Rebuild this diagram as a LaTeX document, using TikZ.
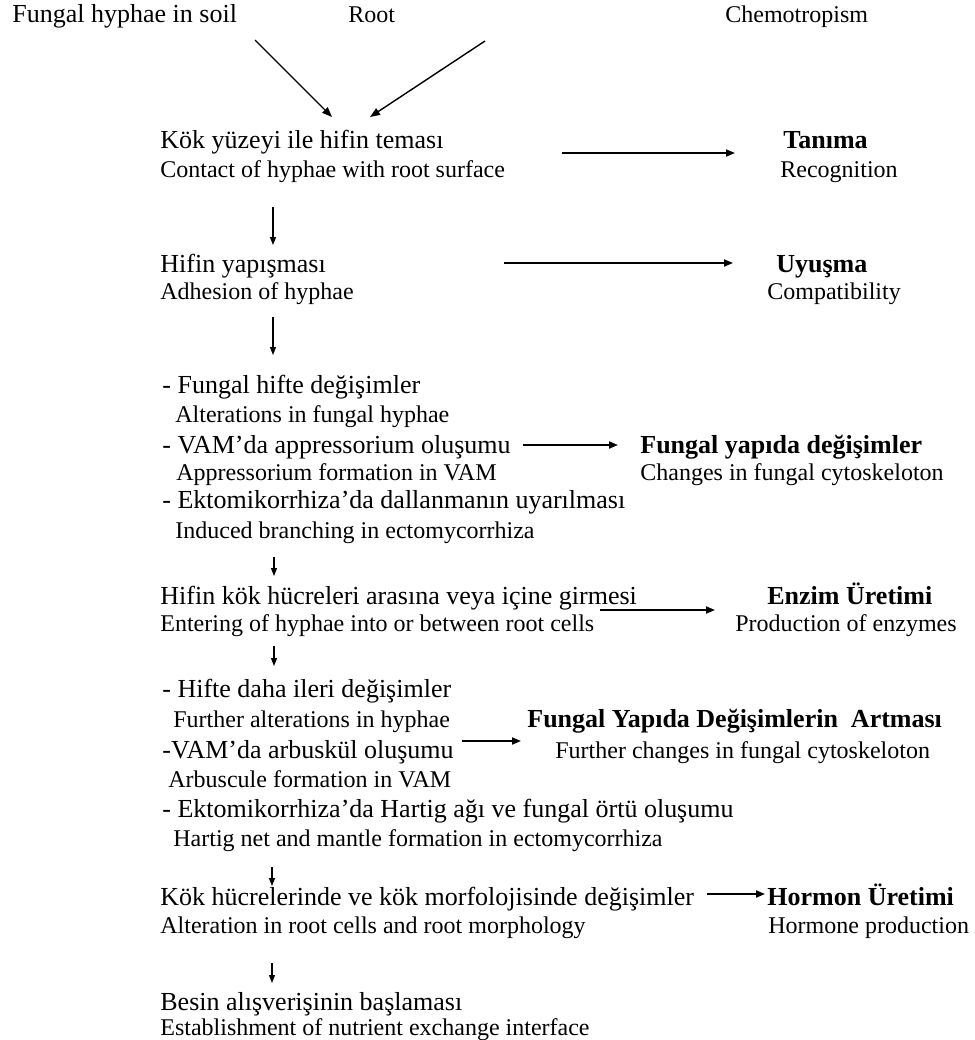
\documentclass[tikz,border=0pt]{standalone}
\usepackage{fontspec}
\setmainfont{Liberation Serif}
\usetikzlibrary{arrows.meta}

\begin{document}
\begin{tikzpicture}[
    x=0.5pt, y=-0.5pt,
    turkish/.style={anchor=base west, inner sep=0pt, font=\fontsize{13}{15}\selectfont},
    english/.style={anchor=base west, inner sep=0pt, font=\fontsize{12}{14}\selectfont},
    outcome/.style={anchor=base west, inner sep=0pt, font=\fontsize{13}{15}\selectfont\bfseries},
    arrow/.style={line width=0.9pt, -{Triangle[length=4.5pt,width=3.5pt]}},
    slant/.style={line width=0.7pt, -{Triangle[length=5pt,width=3.8pt]}},
    downarrow/.style={line width=0.6pt, -{Triangle[length=4pt,width=3pt]}},
]
\useasboundingbox (0,0) rectangle (975,1040);

% Top row
\node[turkish] (soil) at (12,22) {Fungal hyphae in soil};
\node[english] (root) at (348,22) {Root};
\node[english] (chemo) at (725,22) {Chemotropism};
\coordinate (soilStart) at (255,40);
\coordinate (chemoStart) at (485,41);
\coordinate (contactLeft) at (332,117);
\coordinate (contactRight) at (370,117);

% Contact
\node[turkish] (contactTr) at (160,148) {Kök yüzeyi ile hifin teması};
\node[english] (contactEn) at (160,177) {Contact of hyphae with root surface};
\node[outcome] (tanima) at (783,148) {Tanıma};
\node[english] (recognition) at (780,177) {Recognition};
\coordinate (contactOut) at (562,153);
\coordinate (tanimaIn) at (735,153);
\coordinate (contactDown) at (273,207);
\coordinate (adhesionUp) at (273,245);

% Adhesion
\node[turkish] (adhesionTr) at (160,272) {Hifin yapışması};
\node[english] (adhesionEn) at (160,299) {Adhesion of hyphae};
\node[outcome] (uyusma) at (776,272) {Uyuşma};
\node[english] (compatibility) at (767,299) {Compatibility};
\coordinate (adhesionOut) at (504,263);
\coordinate (uyusmaIn) at (733,263);
\coordinate (adhesionDown) at (273,317);
\coordinate (alterUp) at (273,355);

% Fungal alterations
\node[turkish] (alterTr) at (162,393) {- Fungal hifte değişimler};
\node[english] (alterEn) at (175,422) {Alterations in fungal hyphae};
\node[turkish] (appressTr) at (162,453) {- VAM’da appressorium oluşumu};
\node[english] (appressEn) at (176,480) {Appressorium formation in VAM};
\node[turkish] (branchTr) at (162,508) {- Ektomikorrhiza’da dallanmanın uyarılması};
\node[english] (branchEn) at (175,538) {Induced branching in ectomycorrhiza};
\node[outcome] (fungalYapi) at (640,453) {Fungal yapıda değişimler};
\node[english] (cytoskeleton) at (640,480) {Changes in fungal cytoskeloton};
\coordinate (appressOut) at (523,445);
\coordinate (fungalYapiIn) at (618,445);
\coordinate (branchDown) at (274,557);
\coordinate (enterUp) at (274,576);

% Entering
\node[turkish] (enterTr) at (160,604) {Hifin kök hücreleri arasına veya içine girmesi};
\node[english] (enterEn) at (160,631) {Entering of hyphae into or between root cells};
\node[outcome] (enzim) at (767,604) {Enzim Üretimi};
\node[english] (enzymes) at (735,631) {Production of enzymes};
\coordinate (enterOut) at (600,610);
\coordinate (enzimIn) at (715,610);
\coordinate (enterDown) at (274,646);
\coordinate (furtherUp) at (274,666);

% Further alterations
\node[turkish] (furtherTr) at (162,697) {- Hifte daha ileri değişimler};
\node[english] (furtherEn) at (173,727) {Further alterations in hyphae};
\node[turkish] (arbusculeTr) at (162,758) {-VAM’da arbuskül oluşumu};
\node[english] (arbusculeEn) at (168,787) {Arbuscule formation in VAM};
\node[turkish] (hartigTr) at (162,817) {- Ektomikorrhiza’da Hartig ağı ve fungal örtü oluşumu};
\node[english] (hartigEn) at (173,846) {Hartig net and mantle formation in ectomycorrhiza};
\node[outcome] (artmasi) at (527,727) {Fungal Yapıda Değişimlerin\ \ Artması};
\node[english] (furtherChanges) at (555,758) {Further changes in fungal cytoskeloton};
\coordinate (arbusculeOut) at (462,741);
\coordinate (artmasiIn) at (521,741);
\coordinate (hartigDown) at (272,867);
\coordinate (morphUp) at (272,886);

% Root morphology
\node[turkish] (morphTr) at (160,905) {Kök hücrelerinde ve kök morfolojisinde değişimler};
\node[english] (morphEn) at (160,933) {Alteration in root cells and root morphology};
\node[outcome] (hormon) at (767,905) {Hormon Üretimi};
\node[english] (hormone) at (768,933) {Hormone production};
\coordinate (morphOut) at (707,894);
\coordinate (hormonIn) at (765,894);
\coordinate (morphDown) at (272,963);
\coordinate (besinUp) at (272,983);

% Nutrient exchange
\node[turkish] (besinTr) at (160,1010) {Besin alışverişinin başlaması};
\node[english] (besinEn) at (160,1035) {Establishment of nutrient exchange interface};

% Arrows
\draw[slant] (soilStart) -- (contactLeft);
\draw[slant] (chemoStart) -- (contactRight);
\draw[arrow] (contactOut) -- (tanimaIn);
\draw[downarrow] (contactDown) -- (adhesionUp);
\draw[arrow] (adhesionOut) -- (uyusmaIn);
\draw[downarrow] (adhesionDown) -- (alterUp);
\draw[arrow] (appressOut) -- (fungalYapiIn);
\draw[downarrow] (branchDown) -- (enterUp);
\draw[arrow] (enterOut) -- (enzimIn);
\draw[downarrow] (enterDown) -- (furtherUp);
\draw[arrow] (arbusculeOut) -- (artmasiIn);
\draw[downarrow] (hartigDown) -- (morphUp);
\draw[arrow] (morphOut) -- (hormonIn);
\draw[downarrow] (morphDown) -- (besinUp);

\end{tikzpicture}
\end{document}
